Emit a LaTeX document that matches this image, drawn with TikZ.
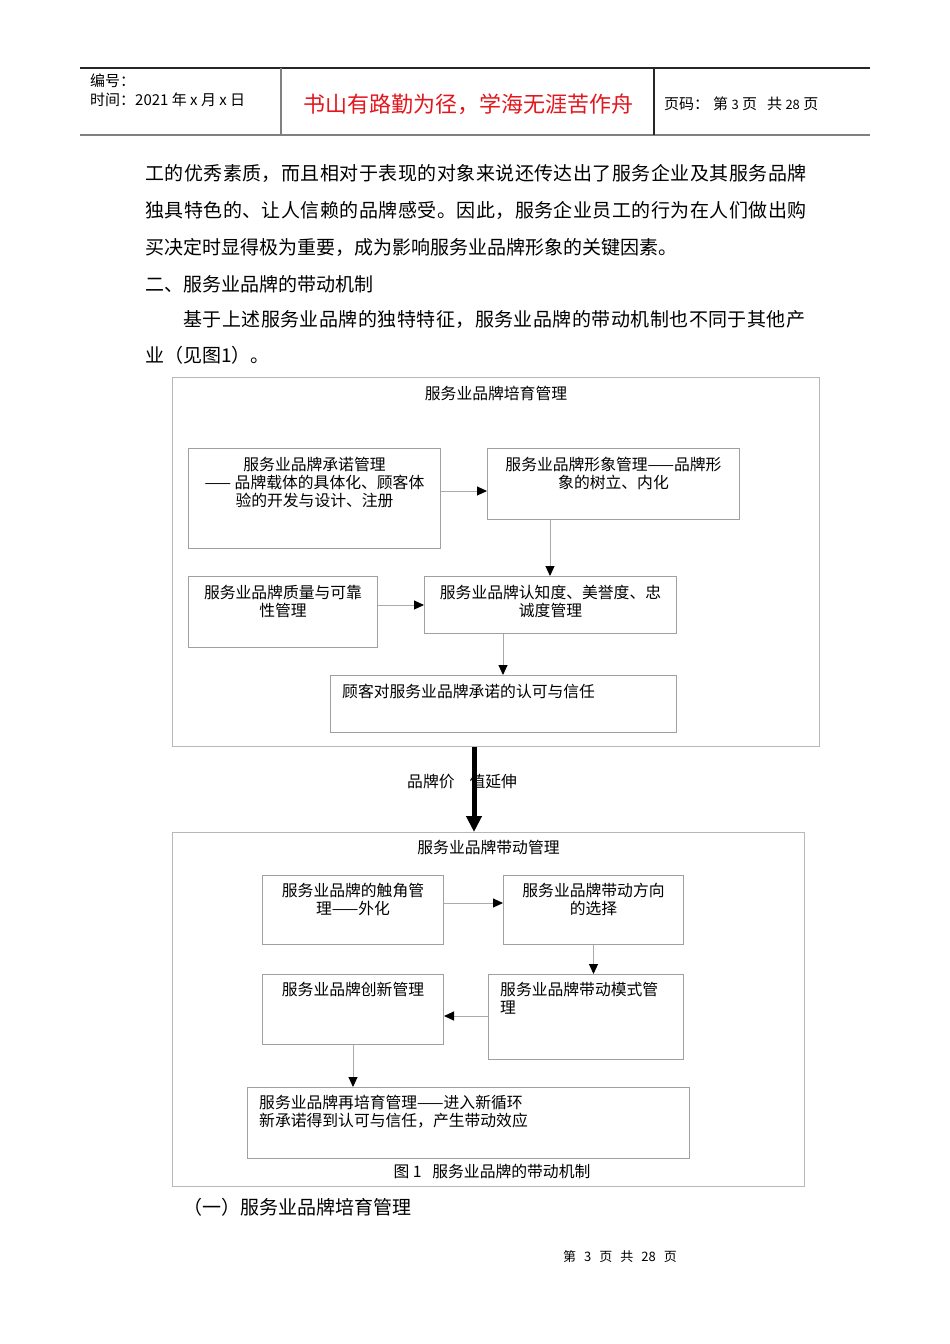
\documentclass[tikz,border=0pt]{standalone}
\usepackage{fontspec}
\setmainfont{Noto Sans CJK SC}
\usetikzlibrary{arrows.meta, positioning}

\definecolor{framegray}{HTML}{B8B8B8}
\definecolor{boxgray}{HTML}{A0A0A0}
\definecolor{linkgray}{HTML}{ABABAB}
\definecolor{mottored}{HTML}{E3161E}
\newcommand{\bodyfont}{\fontsize{19}{37}\selectfont}
\newcommand{\chartfont}{\fontsize{15.8}{18}\selectfont}
\newcommand{\headfont}{\fontsize{15}{18}\selectfont}
\newcommand{\numgap}{\hspace{8pt}}

\begin{document}
\begin{tikzpicture}[
    x=1pt, y=-1pt,
    frame/.style={draw=framegray, line width=1pt, inner sep=0pt, anchor=north west},
    box/.style={draw=boxgray, line width=1pt, inner sep=0pt, anchor=north west},
    boxtext/.style={font=\chartfont, align=center, inner sep=0pt},
    lefttext/.style={font=\chartfont, align=left, inner sep=0pt},
    link/.style={draw=linkgray, line width=1pt, -{Triangle[length=10pt, width=9pt, color=black]}},
    bodyline/.style={font=\bodyfont, anchor=base west, inner sep=0pt},
  ]
  \useasboundingbox (0,0) rectangle (950,1344);

  % Page header
  \draw [line width=1.5pt, black!85] (80,68) -- (870,68);
  \draw [line width=2.5pt, gray] (80,135) -- (870,135);
  \draw [line width=1.2pt, gray] (281,68) -- (281,135);
  \draw [line width=1.2pt, black!85] (654,68) -- (654,135);
  \node [font=\headfont, anchor=base west, inner sep=0pt] (serial) at (90,86) {编号：};
  \node [font=\headfont, anchor=base west, inner sep=0pt] (date) at (90,105) {时间：2021 年 x 月 x 日};
  \node [font=\fontsize{22}{26}\selectfont, text=mottored, anchor=base, inner sep=0pt] (motto) at (468,112) {书山有路勤为径，学海无涯苦作舟};
  \node [font=\headfont, anchor=base west, inner sep=0pt] (pageno) at (664,109) {页码：\hspace{4pt}第\ {\fontsize{13}{15}\selectfont 3}\ 页\hspace{10pt}共\ {\fontsize{13}{15}\selectfont 28}\ 页};

  % Body text (\ls: letter spacing of a justified line)
  \foreach \x/\y/\ls/\txt [count=\i] in {
      145/180/2.45/工的优秀素质，而且相对于表现的对象来说还传达出了服务企业及其服务品牌,
      145/217/2.45/独具特色的、让人信赖的品牌感受。因此，服务企业员工的行为在人们做出购,
      145/254/0/买决定时显得极为重要，成为影响服务业品牌形象的关键因素。,
      145/291/0/二、服务业品牌的带动机制,
      183/326/2.4/基于上述服务业品牌的独特特征，服务业品牌的带动机制也不同于其他产,
      145/362/0/业（见图1）。}{%
    \node [bodyline] (body\i) at (\x,\y) {\addfontfeature{LetterSpace=\ls}\txt};
  }

  % Cultivation part
  \node [frame, minimum width=647pt, minimum height=369pt] (cultivate) at (172,377) {};
  \node [boxtext, below=9pt of cultivate.north] (cultivate-t) {服务业品牌培育管理};

  \node [box, minimum width=252pt, minimum height=100pt] (promise) at (188,448) {};
  \node [boxtext, below=9pt of promise.north] (promise-t) {服务业品牌承诺管理\\—— 品牌载体的具体化、顾客体\\验的开发与设计、注册};
  \node [box, minimum width=252pt, minimum height=71pt] (image) at (487,448) {};
  \node [boxtext, below=9pt of image.north] (image-t) {服务业品牌形象管理——品牌形\\象的树立、内化};
  \node [box, minimum width=189pt, minimum height=71pt] (quality) at (188,576) {};
  \node [boxtext, below=9pt of quality.north] (quality-t) {服务业品牌质量与可靠\\性管理};
  \node [box, minimum width=252pt, minimum height=57pt] (loyalty) at (424,576) {};
  \node [boxtext, below=9pt of loyalty.north] (loyalty-t) {服务业品牌认知度、美誉度、忠\\诚度管理};
  \node [box, minimum width=346pt, minimum height=57pt] (trust) at (330,675) {};
  \node [lefttext, below right=9pt and 12pt of trust.north west] (trust-t) {顾客对服务业品牌承诺的认可与信任};

  \draw [link] (promise.east |- 0,491) -- (image.west |- 0,491);
  \draw [link] (550,0 |- image.south) -- (550,0 |- loyalty.north);
  \draw [link] (quality.east |- 0,605) -- (loyalty.west |- 0,605);
  \draw [link] (503,0 |- loyalty.south) -- (503,0 |- trust.north);

  % Driving part
  \node [frame, minimum width=632pt, minimum height=354pt] (drive) at (172,832) {};
  \node [boxtext, below=8pt of drive.north] (drive-t) {服务业品牌带动管理};

  \node [box, minimum width=181pt, minimum height=69pt] (tentacle) at (262,875) {};
  \node [boxtext, below=8pt of tentacle.north] (tentacle-t) {服务业品牌的触角管\\理——外化};
  \node [box, minimum width=180pt, minimum height=69pt] (direction) at (503,875) {};
  \node [boxtext, below=8pt of direction.north] (direction-t) {服务业品牌带动方向\\的选择};
  \node [box, minimum width=181pt, minimum height=70pt] (innovate) at (262,974) {};
  \node [boxtext, below=8pt of innovate.north] (innovate-t) {服务业品牌创新管理};
  \node [box, minimum width=195pt, minimum height=85pt] (mode) at (488,974) {};
  \node [lefttext, below right=8pt and 12pt of mode.north west] (mode-t) {服务业品牌带动模式管\\理};
  \node [box, minimum width=442pt, minimum height=71pt] (recultivate) at (247,1087) {};
  \node [lefttext, below right=8pt and 12pt of recultivate.north west] (recultivate-t) {服务业品牌再培育管理——进入新循环\\新承诺得到认可与信任，产生带动效应};

  \draw [link] (tentacle.east |- 0,903) -- (direction.west |- 0,903);
  \draw [link] (direction.south) -- (direction.south |- mode.north);
  \draw [link] (mode.west |- 0,1016) -- (innovate.east |- 0,1016);
  \draw [link] (innovate.south) -- (innovate.south |- recultivate.north);

  \node [font=\chartfont, anchor=base, inner sep=0pt] (caption) at (492,1177) {图\ 1\ \ \ 服务业品牌的带动机制};

  % Extension of the brand value
  \node [font=\chartfont, anchor=base west, inner sep=0pt] (extend) at (407,787) {品牌价\hspace{15pt}值延伸};
  \draw [line width=5pt, -{Triangle[length=16pt, width=15pt]}] (474,0 |- cultivate.south) -- (474,0 |- drive.north);

  % After the figure
  \node [font=\fontsize{19}{24}\selectfont, anchor=base west, inner sep=0pt] (section) at (183,1214) {（一）服务业品牌培育管理};
  \node [font=\fontsize{13}{15}\selectfont, anchor=base west, inner sep=0pt] (footer) at (563,1261) {第\numgap 3\numgap 页\numgap 共\numgap 28\numgap 页};
\end{tikzpicture}
\end{document}
